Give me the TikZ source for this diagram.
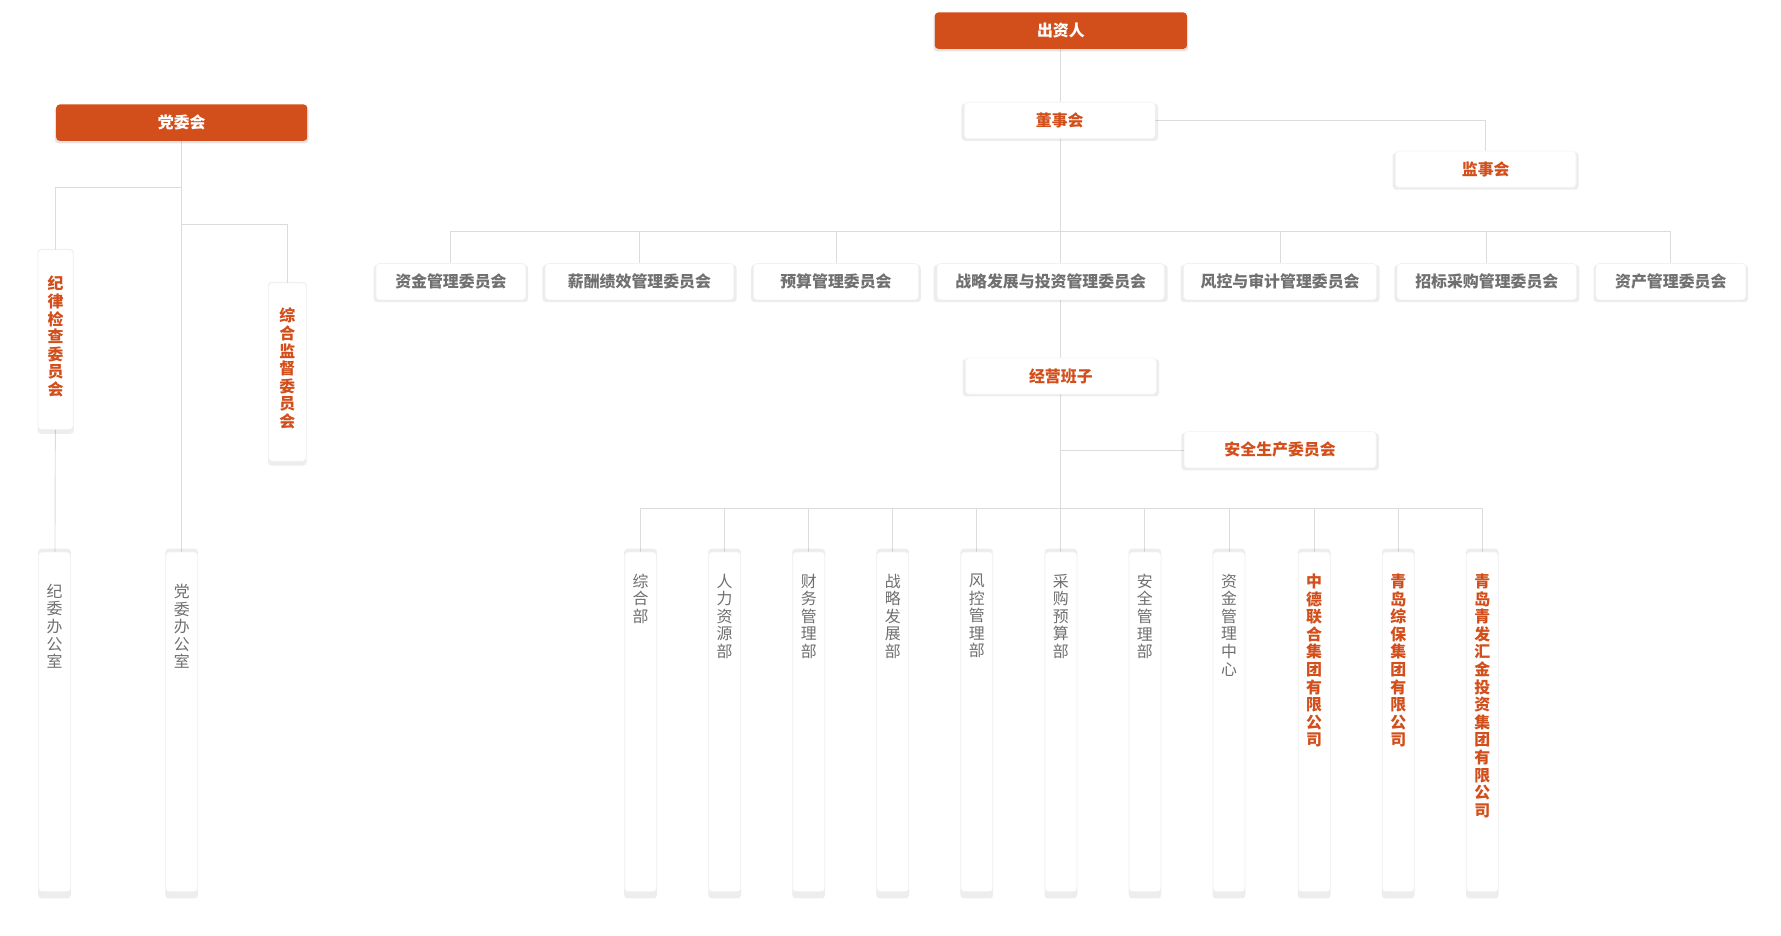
\documentclass[tikz,border=0pt]{standalone}
\usepackage{fontspec}
\setmainfont{Noto Sans CJK SC}
\usetikzlibrary{shadows}
\definecolor{org}{HTML}{D24E1A}
\definecolor{gtx}{HTML}{707070}
\definecolor{ln}{HTML}{DCDCDC}
\begin{document}
\begin{tikzpicture}[x=1pt,y=-1pt,
 base/.style={rounded corners=3pt,inner sep=0pt,font=\fontsize{14}{16}\selectfont},
 sh/.style={drop shadow={opacity=0.07,shadow xshift=0pt,shadow yshift=-1.5pt,shadow scale=1.03,fill=black}},
 hd/.style={base,draw=none,fill=org,text=white,font=\fontsize{14}{16}\selectfont\bfseries,minimum height=32pt,
   drop shadow={opacity=0.22,shadow xshift=0pt,shadow yshift=-2pt,shadow scale=1.01}},
 bx/.style={base,draw=black!5,line width=0.5pt,fill=white,text=gtx,font=\fontsize{14}{16}\selectfont\bfseries,minimum height=32pt,sh},
 ob/.style={bx,text=org},
 tall/.style={base,draw=black!5,line width=0.5pt,fill=white,minimum width=28pt,minimum height=299pt,sh},
 vt/.style={anchor=north,align=center,inner sep=0pt,font=\fontsize{14}{15.5}\selectfont,text=gtx},
 vo/.style={vt,text=org,font=\fontsize{14}{15.5}\selectfont\bfseries},
 ln/.style={draw=ln,line width=0.8pt}]
\useasboundingbox (0,0) rectangle (1568,824);
\fill[white] (0,0) rectangle (1568,824);
\coordinate (s1) at (934,397);
\coordinate (p1) at (160,165); \coordinate (p2) at (160,198);
\draw[ln] (934,27) -- (934,448);
\draw[ln] (1017,106) -| (1308,149);
\draw[ln] (397,248) |- (1471,204) -- (1471,248);
\foreach \x in {563,736,1127,1309} \draw[ln] (\x,204)--(\x,248);
\draw[ln] (s1) -- (1127,397);
\draw[ln] (564,600) |- (1305,448) -- (1305,600);
\foreach \x in {638,712,786,860,934,1008,1082,1157,1231} \draw[ln] (\x,448)--(\x,600);
\draw[ln] (160,108) -- (160,600);
\draw[ln] (p1) -| (49,300);
\draw[ln] (p2) -| (253,300);
\draw[ln] (49,300) -- (48,600);
\node[hd,minimum width=222pt] (czr) at (934,27) {出资人};
\node[hd,minimum width=221pt] (dwh) at (160,108) {党委会};
\node[ob,minimum width=168pt] (dsh) at (933,106) {董事会};
\node[ob,minimum width=159pt] (jsh) at (1308,149) {监事会};
\node[bx,minimum width=132pt] (c1) at (397,248) {资金管理委员会};
\node[bx,minimum width=166pt] (c2) at (563,248) {薪酬绩效管理委员会};
\node[bx,minimum width=145pt] (c3) at (736,248) {预算管理委员会};
\node[bx,minimum width=200pt] (c4) at (925,248) {战略发展与投资管理委员会};
\node[bx,minimum width=170pt] (c5) at (1127,248) {风控与审计管理委员会};
\node[bx,minimum width=158pt] (c6) at (1309,248) {招标采购管理委员会};
\node[bx,minimum width=132pt] (c7) at (1471,248) {资产管理委员会};
\node[ob,minimum width=168pt] (jy) at (934,331) {经营班子};
\node[ob,minimum width=169pt] (aq) at (1127,396) {安全生产委员会};
\node[tall,minimum width=31pt,minimum height=158pt] (jl) at (49,299) {};
\node[vo] at (49,243) {纪\\律\\检\\查\\委\\员\\会};
\node[tall,minimum width=33pt,minimum height=157pt] (zh) at (253,327.5) {};
\node[vo] at (253,271) {综\\合\\监\\督\\委\\员\\会};
\node[tall] (jw) at (48,635.5) {};
\node[vt] at (48,514) {纪\\委\\办\\公\\室};
\node[tall] (dw) at (160,635.5) {};
\node[vt] at (160,514) {党\\委\\办\\公\\室};
\foreach \x/\t/\s in {564/综\\合\\部/vt,638/人\\力\\资\\源\\部/vt,712/财\\务\\管\\理\\部/vt,786/战\\略\\发\\展\\部/vt,860/风\\控\\管\\理\\部/vt,934/采\\购\\预\\算\\部/vt,1008/安\\全\\管\\理\\部/vt,1082/资\\金\\管\\理\\中\\心/vt,1157/中\\德\\联\\合\\集\\团\\有\\限\\公\\司/vo,1231/青\\岛\\综\\保\\集\\团\\有\\限\\公\\司/vo,1305/青\\岛\\青\\发\\汇\\金\\投\\资\\集\\团\\有\\限\\公\\司/vo}{
 \node[tall] (d\x) at (\x,635.5) {};
 \node[\s] at (\x,505) {\t};
}
\end{tikzpicture}
\end{document}
